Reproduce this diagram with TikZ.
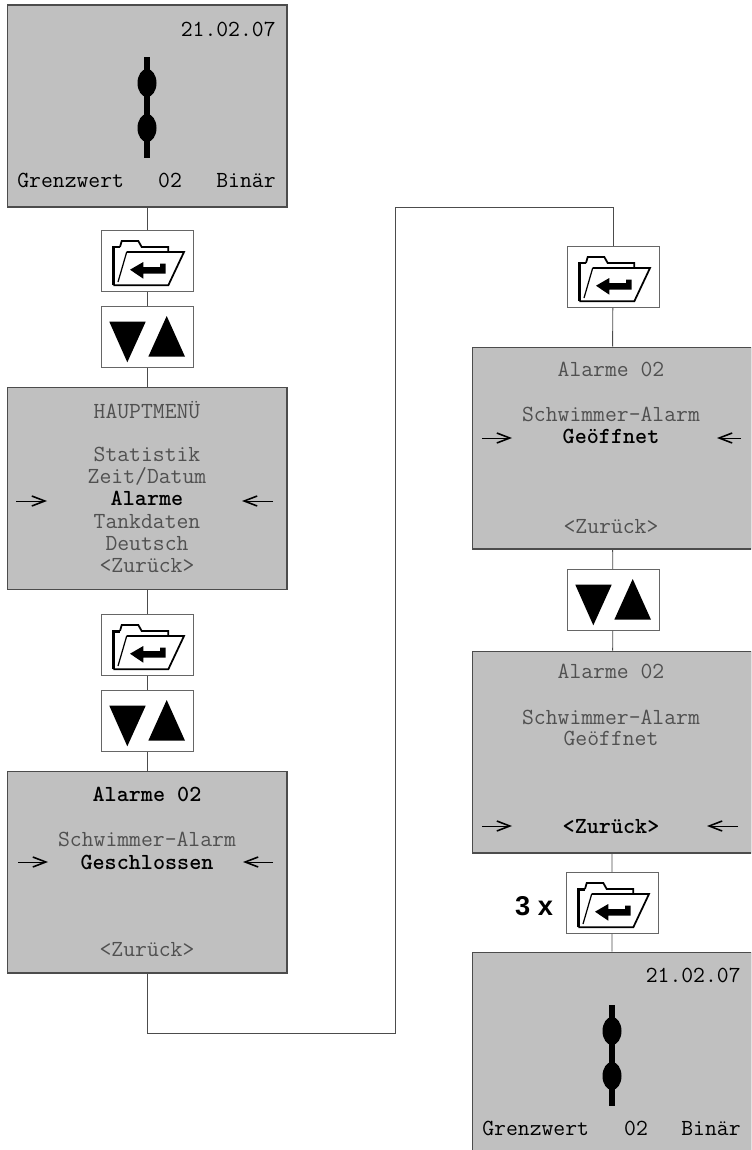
\documentclass[tikz,border=0pt]{standalone}
\usepackage{fontspec}
\setsansfont{Liberation Sans}
\usepackage{xcolor}
\usetikzlibrary{arrows, arrows.meta}
\usetikzlibrary{calc}
\definecolor{lcdgray}{HTML}{C0C0C0}
\definecolor{dimtext}{HTML}{505050}
\tikzset{
  lcdbox/.style={rectangle, draw=black!70, line width=0.6pt, fill=lcdgray, inner sep=0pt, minimum width=5.6cm, minimum height=4.04cm},
  keybox/.style={rectangle, draw=black!60, line width=0.5pt, fill=white, inner sep=0pt, minimum width=1.84cm, minimum height=1.22cm},
  link/.style={draw=black!70, line width=0.5pt},
  dim/.style={font=\ttfamily\fontsize{13.1}{14}\selectfont, text=dimtext, inner sep=0pt, text height=1.7ex, text depth=0.3ex, yshift=-0.5pt},
  lit/.style={font=\ttfamily\bfseries\fontsize{13.1}{14}\selectfont, text=black, inner sep=0pt, text height=1.7ex, text depth=0.3ex, yshift=-0.5pt},
  norm/.style={font=\ttfamily\fontsize{13.1}{14}\selectfont, text=black, inner sep=0pt, text height=1.7ex, text depth=0.3ex, yshift=-0.5pt},
  pointer/.style={draw=black, line width=0.5pt, -{Straight Barb[length=2.6mm, width=2mm, line width=0.9pt]}},
  pics/foldericon/.style={code={
    \draw[line width=1pt, line join=miter] (-20.3,-9) -- (37,-9) -- (21.3,24.3) -- (-33.7,24.3);
    \draw[line width=1.7pt] (-33.7,24.3) -- (-33.7,-14) -- (-27,-14);
    \draw[line width=1pt] (-27,-14) -- (-25.3,-20) -- (-8.7,-20) -- (-5.3,-14) -- (21.3,-14) -- (21.3,-9);
    \draw[line width=0.7pt] (-20.3,-9) -- (-29,21);
    \fill (-17,8.7) -- (-3.7,1) -- (-3.7,6) -- (13,6) -- (13,2.7) -- (18.7,2.7) -- (18.7,12.7) -- (-3.7,12.7) -- (-3.7,17.7) -- cycle;
  }},
  pics/updownicon/.style={code={
    \fill (-37.7,-15.3) -- (-1.3,-15.3) -- (-19.7,25.3) -- cycle;
    \fill (1.3,19.7) -- (38,19.7) -- (19.7,-21) -- cycle;
  }},
  pics/floaticon/.style={code={
    \fill (-3.2,0) rectangle (3.2,101);
    \fill (0,26) circle [x radius=9.5, y radius=14];
    \fill (0,71) circle [x radius=9.5, y radius=14];
  }}
}

\begin{document}
\begin{tikzpicture}[x=0.02cm, y=-0.02cm]
  \useasboundingbox (0,0) rectangle (751,1150);
  \clip (0,0) rectangle (751,1150);

  % left column
  \node[lcdbox] (home1) at (147,106) {};
  \node[keybox] (enter1) at (147,261) {};
  \node[keybox] (updown1) at (147,337) {};
  \node[lcdbox] (menu) at (147,488.5) {};
  \node[keybox] (enter2) at (147,645) {};
  \node[keybox] (updown2) at (147,721) {};
  \node[lcdbox] (closed) at (147,872) {};

  % right column
  \node[keybox] (enter3) at (613,277) {};
  \node[lcdbox] (open1) at (612,448) {};
  \node[keybox] (updown3) at (613,600) {};
  \node[lcdbox] (open2) at (612,752) {};
  \node[keybox] (enter4) at (612,903) {};
  \node[lcdbox] (home2) at (612,1053) {};

  \coordinate (turn1) at (395,1033);
  \coordinate (turn2) at (395,207);

  \draw[link] (home1) -- (enter1) -- (updown1) -- (menu) -- (enter2) -- (updown2) -- (closed);
  \draw[link] (closed) |- (turn1) -- (turn2) -| (enter3);
  \draw[link] (enter3) -- (open1) -- (updown3) -- (open2) -- (enter4) -- (home2);

  \pic at (enter1) {foldericon};
  \pic at (enter2) {foldericon};
  \pic at (enter3) {foldericon};
  \pic at (enter4) {foldericon};
  \pic at (updown1) {updownicon};
  \pic at (updown2) {updownicon};
  \pic at (updown3) {updownicon};
  \pic at (147,57) {floaticon};
  \pic at (612,1005) {floaticon};

  % first screen
  \node[norm, anchor=east] (date1) at (276,30) {21.02.07};
  \node[norm, anchor=west] (limit1) at (17,181) {Grenzwert};
  \node[norm] (num1) at (170,181) {02};
  \node[norm, anchor=east] (bin1) at (276,181) {Binär};

  % main menu
  \node[dim] (mtitle) at (147,412) {HAUPTMENÜ};
  \node[dim] (m1) at (147,455) {Statistik};
  \node[dim] (m2) at (147,477) {Zeit/Datum};
  \node[lit] (m3) at (147,499) {Alarme};
  \node[dim] (m4) at (147,522) {Tankdaten};
  \node[dim] (m5) at (147,544) {Deutsch};
  \node[dim] (m6) at (147,566) {<Zurück>};
  \draw[pointer] (16,501) -- (47,501);
  \draw[pointer] (273,501) -- (242,501);

  % closed screen
  \node[lit] (c1) at (147,795) {Alarme 02};
  \node[dim] (c2) at (147,840) {Schwimmer-Alarm};
  \node[lit] (c3) at (147,863) {Geschlossen};
  \node[dim] (c4) at (147,950) {<Zurück>};
  \draw[pointer] (18,862) -- (48,862);
  \draw[pointer] (273,862) -- (243,862);

  % open screen 1
  \node[dim] (o1) at (611,370) {Alarme 02};
  \node[dim] (o2) at (611,415) {Schwimmer-Alarm};
  \node[lit] (o3) at (611,437) {Geöffnet};
  \node[dim] (o4) at (611,527) {<Zurück>};
  \draw[pointer] (482,438) -- (512,438);
  \draw[pointer] (741,438) -- (717,438);

  % open screen 2
  \node[dim] (p1) at (611,672) {Alarme 02};
  \node[dim] (p2) at (611,718) {Schwimmer-Alarm};
  \node[dim] (p3) at (611,739) {Geöffnet};
  \node[lit] (p4) at (611,827) {<Zurück>};
  \draw[pointer] (482,826) -- (512,826);
  \draw[pointer] (738,826) -- (707,826);

  % last screen
  \node[norm, anchor=east] (date2) at (741,976) {21.02.07};
  \node[norm, anchor=west] (limit2) at (482,1129) {Grenzwert};
  \node[norm] (num2) at (636,1129) {02};
  \node[norm, anchor=east] (bin2) at (741,1129) {Binär};

  \node[font=\sffamily\bfseries\fontsize{15.5}{18}\selectfont, inner sep=0pt] (times) at (534,906) {3 x};
\end{tikzpicture}
\end{document}
